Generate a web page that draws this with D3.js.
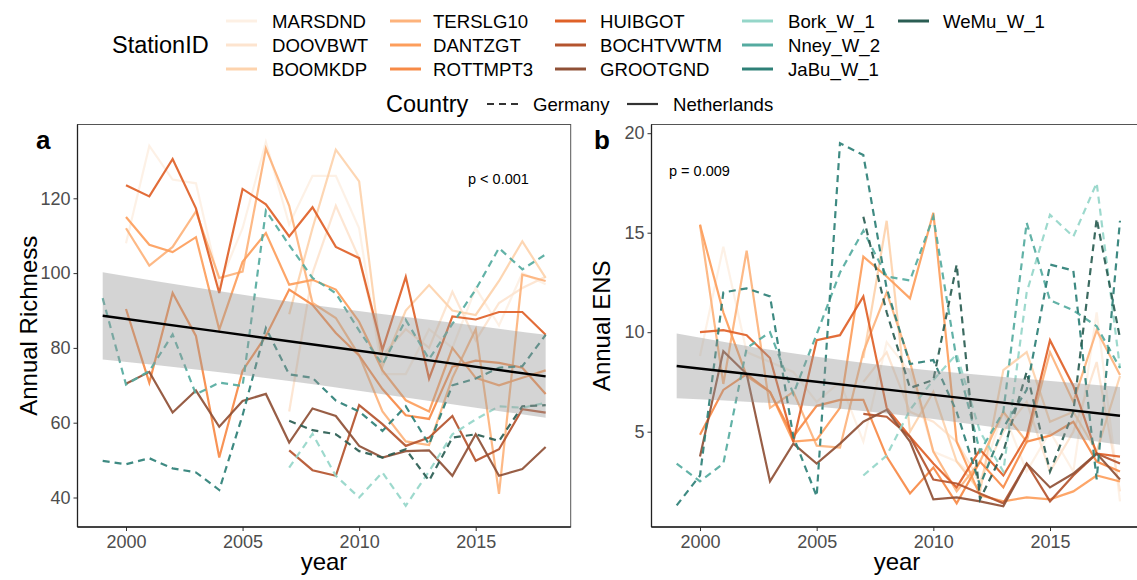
<!DOCTYPE html>
<html>
<head>
<meta charset="utf-8">
<script src="https://cdn.jsdelivr.net/npm/d3@7/dist/d3.min.js"></script>
<style>
  body { margin: 0; background: #fff; }
  text { font-family: "Liberation Sans", Arial, Helvetica, sans-serif; }
</style>
</head>
<body>
<svg id="chart" width="1137" height="580"></svg>
<script>
const NA = null;

const years = [1999, 2000, 2001, 2002, 2003, 2004, 2005, 2006, 2007, 2008,
               2009, 2010, 2011, 2012, 2013, 2014, 2015, 2016, 2017, 2018];

const stationIDs = ['MARSDND', 'DOOVBWT', 'BOOMKDP', 'TERSLG10', 'DANTZGT', 'ROTTMPT3',
                    'HUIBGOT', 'BOCHTVWTM', 'GROOTGND', 'Bork_W_1', 'Nney_W_2', 'JaBu_W_1', 'WeMu_W_1'];
const stationCountry = ['Netherlands', 'Netherlands', 'Netherlands', 'Netherlands', 'Netherlands', 'Netherlands',
                        'Netherlands', 'Netherlands', 'Netherlands', 'Germany', 'Germany', 'Germany', 'Germany'];
const stationColors = ['#fdf0e4', '#fde4cf', '#fdd3ad', '#fdb37c', '#fd9e5c', '#f78a47',
                       '#df6128', '#b4542e', '#8f5036', '#95d6c9', '#55aba0', '#2e8077', '#2a5d53'];

// Annual Richness (panel a)
const richMARSDND   = [NA, 108, 134, 125, 124, 97, 112, 135, 113, 126, 126, 112, 73, 73, 85, 80, 96, 86, 100, 97];
const richDOOVBWT   = [NA, NA, NA, NA, NA, NA, NA, NA, 63, 100, 118, 104, 78, 85, 80, 95, 82, 92, 96, 99];
const richBOOMKDP   = [NA, NA, NA, NA, NA, NA, NA, NA, 89, 112, 133, 124.5, 75, 90, 96.8, 90, 88.8, 97.9, 108.5, 98.7];
const richTERSLG10  = [NA, 112, 102, 107, 116.5, 98.7, 100.4, 133.3, 118, 92, 88, 78, 63, 55, 54, 72, 85, 41, 99.6, 97.9];
const richDANTZGT   = [NA, 115, 107.6, 105.6, 109.6, 84.9, 103, 110.7, 96.9, 98.2, 95.6, 87, 74, 66, 63, 80, 72, 70, 72, 74];
const richROTTMPT3  = [NA, 90.4, 70.7, 94.7, 83.2, 50.7, 73.9, 83.2, 95.6, 91.5, 84, 78, 69, 62, 61, 75, 76.6, 76, 74.7, 67.7];
const richHUIBGOT   = [NA, 123.5, 120.5, 130.5, 117.3, 94.7, 122.5, 118.4, 109.8, 117.6, 107, 104, 79.5, 99, 71.8, 88.4, 87.6, 89.6, 89.6, 83.5];
const richBOCHTVWTM = [NA, NA, NA, NA, NA, NA, NA, NA, 52.6, 47.3, 45.8, 64.7, 59.6, 53.8, 56, 61.8, 49.8, 52.9, 63.6, 62.7];
const richGROOTGND  = [NA, 70.4, 73.6, 62.7, 68.6, 58.9, 65.8, 67.7, 54.7, 63.8, 61.8, 53.8, 50.7, 52.4, 52.6, 45.8, 56.9, 45.8, 47.6, 53.5];
const richBork      = [NA, NA, NA, NA, NA, NA, NA, NA, 48, 57, 45.8, 40, 46.7, 37.8, 47, 56.9, 60.9, 64.4, 64, 65.3];
const richNney      = [93.3, 70.2, 73.8, 83.6, 67.6, 70.7, 69.8, 116.7, 107.5, 98.7, 94.6, 84.6, 75.5, 87.5, 77, 86.4, 95.6, 106.7, 101, 105];
const richJaBu      = [49.8, 48.9, 50.5, 47.8, 46.7, 42, 62, 85.3, 72.9, 72, 65.9, 63, 57.8, 64.4, 54.2, 70, 71.8, 74.7, 75.1, 83.5];
const richWeMu      = [NA, NA, NA, NA, NA, NA, NA, NA, 60.5, 58, 56.9, 52.4, 50.7, 52.9, 44.5, 56, 56.9, 55.1, 64.4, 64.7];

// Annual ENS (panel b)
const ensMARSDND   = [NA, 8.8, 14.3, 9.0, 8.5, 8.0, 6.5, 7.5, 4.5, 9.5, 8.0, 4.0, 3.5, 2.5, 6.0, 3.0, 5.0, 3.0, 11.0, 1.5];
const ensDOOVBWT   = [NA, NA, NA, NA, NA, NA, NA, NA, 7.5, 9.0, 6.0, 5.5, 4.5, 2.5, 5.0, 6.5, 3.0, 5.0, 8.5, 2.0];
const ensBOOMKDP   = [NA, NA, NA, NA, NA, NA, NA, NA, 8.7, 15.6, 5.0, 7.0, 3.5, 2.0, 8.1, 9.0, 5.5, 6.0, 4.0, 7.8];
const ensTERSLG10  = [NA, 15.4, 7.4, 14.1, 6.2, 7.0, 4.3, 4.2, 9.0, 12.0, 8.5, 4.0, 2.0, 3.5, 6.0, 4.5, 9.0, 6.5, 10.1, 7.85];
const ensDANTZGT   = [NA, 15.4, 11.0, 7.8, 7.0, 4.5, 4.6, 6.2, 13.8, 12.8, 11.7, 16.0, 4.5, 1.8, 1.5, 1.7, 1.6, 2.0, 2.8, 2.5];
const ensROTTMPT3  = [NA, 4.85, 7.1, 7.9, 7.0, 4.75, 6.3, 6.6, 6.6, 3.75, 1.9, 3.2, 1.4, 3.5, 2.2, 4.5, 4.8, 5.5, 3.5, 3.0];
const ensHUIBGOT   = [NA, 10.0, 10.1, 9.85, 8.7, 4.5, 9.6, 9.85, 11.8, 6.2, 4.75, 3.4, 2.2, 4.1, 2.8, 4.75, 9.6, 7.3, 3.9, 3.75];
const ensBOCHTVWTM = [NA, NA, NA, NA, NA, NA, NA, NA, 5.9, 5.75, 4.75, 2.6, 2.4, 1.9, 1.4, 3.4, 1.5, 2.8, 3.9, 3.4];
const ensGROOTGND  = [NA, 3.75, 9.05, 7.9, 2.5, 4.4, 3.4, 4.4, 5.5, 6.1, 4.5, 1.6, 1.7, 1.5, 1.25, 3.4, 2.2, 2.9, 3.9, 2.6];
const ensBork      = [NA, NA, NA, NA, NA, NA, NA, NA, 2.8, 3.8, 6.1, 7.6, 8.9, 5.0, 3.0, 12.0, 15.9, 14.8, 17.5, 8.2];
const ensNney      = [3.4, 2.5, 3.4, 9.2, 10.0, 6.9, 9.9, 13.0, 15.1, 12.8, 12.6, 15.8, 8.6, 4.0, 6.0, 15.5, 11.6, 11.1, 10.3, 8.2];
const ensJaBu      = [1.3, 2.8, 12.0, 12.2, 11.8, 4.75, 1.75, 19.5, 18.9, 12.2, 8.4, 8.6, 6.0, 2.3, 5.2, 7.1, 13.4, 13.1, 2.6, 15.6];
const ensWeMu      = [NA, NA, NA, NA, NA, NA, NA, NA, 15.8, 11.0, 7.2, 7.6, 13.4, 1.6, 4.0, 8.0, 3.0, 6.0, 15.7, 9.7];

const richSeries = [richMARSDND, richDOOVBWT, richBOOMKDP, richTERSLG10, richDANTZGT, richROTTMPT3,
                    richHUIBGOT, richBOCHTVWTM, richGROOTGND, richBork, richNney, richJaBu, richWeMu];
const ensSeries = [ensMARSDND, ensDOOVBWT, ensBOOMKDP, ensTERSLG10, ensDANTZGT, ensROTTMPT3,
                   ensHUIBGOT, ensBOCHTVWTM, ensGROOTGND, ensBork, ensNney, ensJaBu, ensWeMu];

// linear fit with confidence band
const bandYears = [1999, 2003.75, 2008.5, 2013.25, 2018];
const richFit   = [88.6, 84.55, 80.5, 76.45, 72.4];
const richLower = [76.9, 73.7, 69.9, 65.6, 61.3];
const richUpper = [100.2, 95.4, 91.1, 87.3, 83.5];
const ensFit    = [8.3, 7.675, 7.05, 6.425, 5.8];
const ensLower  = [6.68, 6.375, 5.85, 5.125, 4.35];
const ensUpper  = [9.93, 8.975, 8.25, 7.725, 7.25];

const richTicks = [40, 60, 80, 100, 120];
const ensTicks = [5, 10, 15, 20];
const yearTicks = [2000, 2005, 2010, 2015];

const svg = d3.select('#chart');

const panels = [
    { tag: 'a', ylab: 'Annual Richness', series: richSeries, fit: richFit, lower: richLower, upper: richUpper,
      ticks: richTicks, left: 77.5, right: 570.7, xr: [126, 475.7], yd: [40, 120], yr: [497.5, 198.3],
      pText: 'p < 0.001', pX: 468, pY: 184, tagX: 36, ylabX: 37, xlabX: 324 },
    { tag: 'b', ylab: 'Annual ENS', series: ensSeries, fit: ensFit, lower: ensLower, upper: ensUpper,
      ticks: ensTicks, left: 651.5, right: 1145, xr: [700, 1050], yd: [5, 20], yr: [431.7, 133.2],
      pText: 'p = 0.009', pX: 669, pY: 176, tagX: 594, ylabX: 610, xlabX: 897 }
];
const plotTop = 124.5, plotBottom = 527;

panels.forEach((p, pi) => {
    const x = d3.scaleLinear().domain([2000, 2015]).range(p.xr);
    const y = d3.scaleLinear().domain(p.yd).range(p.yr);

    const clipId = 'clip' + pi;
    svg.append('clipPath').attr('id', clipId)
        .append('rect').attr('x', p.left).attr('y', plotTop)
        .attr('width', p.right - p.left).attr('height', plotBottom - plotTop);

    const g = svg.append('g').attr('clip-path', `url(#${clipId})`);

    const line = d3.line()
        .defined(d => d.v != null)
        .x(d => x(d.year))
        .y(d => y(d.v));

    p.series.forEach((vals, i) => {
        const pts = years.map((yr, j) => ({ year: yr, v: vals[j] }));
        g.append('path')
            .attr('d', line(pts))
            .attr('fill', 'none')
            .attr('stroke', stationColors[i])
            .attr('stroke-width', 2.2)
            .attr('stroke-opacity', 0.92)
            .attr('stroke-dasharray', stationCountry[i] === 'Germany' ? '7,5' : null);
    });

    // confidence band and fit
    const area = d3.area()
        .x((d, j) => x(bandYears[j]))
        .y0(d => y(d[0]))
        .y1(d => y(d[1]))
        .curve(d3.curveMonotoneX);
    g.append('path')
        .attr('d', area(bandYears.map((b, j) => [p.lower[j], p.upper[j]])))
        .attr('fill', '#999999')
        .attr('fill-opacity', 0.42);

    const fitLine = d3.line().x((d, j) => x(bandYears[j])).y(d => y(d));
    g.append('path')
        .attr('d', fitLine(p.fit))
        .attr('fill', 'none')
        .attr('stroke', '#000')
        .attr('stroke-width', 2.4);

    // panel border
    svg.append('rect')
        .attr('x', p.left).attr('y', plotTop)
        .attr('width', p.right - p.left).attr('height', plotBottom - plotTop)
        .attr('fill', 'none').attr('stroke', '#555').attr('stroke-width', 1);

    // axes
    const yAxis = svg.append('g')
        .attr('transform', `translate(${p.left},0)`)
        .call(d3.axisLeft(y).tickValues(p.ticks).tickSize(4).tickPadding(3));
    const xAxis = svg.append('g')
        .attr('transform', `translate(0,${plotBottom})`)
        .call(d3.axisBottom(x).tickValues(yearTicks).tickFormat(d3.format('d')).tickSize(4).tickPadding(4));
    [yAxis, xAxis].forEach(ax => {
        ax.select('.domain').remove();
        ax.selectAll('line').attr('stroke', '#333');
        ax.selectAll('text').attr('fill', '#4d4d4d').style('font-size', '18px')
            .style('font-family', '"Liberation Sans", Arial, sans-serif');
    });
    svg.append('line').attr('x1', p.left).attr('x2', p.left).attr('y1', plotTop).attr('y2', plotBottom)
        .attr('stroke', '#222').attr('stroke-width', 1.3);
    svg.append('line').attr('x1', p.left).attr('x2', p.right).attr('y1', plotBottom).attr('y2', plotBottom)
        .attr('stroke', '#222').attr('stroke-width', 1.3);

    // labels
    svg.append('text').attr('x', p.pX).attr('y', p.pY)
        .style('font-size', '14.5px').attr('fill', '#000').text(p.pText);
    svg.append('text').attr('x', p.tagX).attr('y', 149)
        .style('font-size', '26px').style('font-weight', 'bold').text(p.tag);
    svg.append('text')
        .attr('transform', `translate(${p.ylabX},${(plotTop + plotBottom) / 2}) rotate(-90)`)
        .attr('text-anchor', 'middle')
        .style('font-size', '24px').text(p.ylab);
    svg.append('text').attr('x', p.xlabX).attr('y', 570)
        .attr('text-anchor', 'middle')
        .style('font-size', '24px').text('year');
});

// StationID legend
const legend = svg.append('g');
legend.append('text').attr('x', 112).attr('y', 53)
    .style('font-size', '23.5px').text('StationID');
const colKeyX = [226, 390, 555, 742, 898];
const colTextX = [272, 433, 600, 788, 943];
const rowY = [21, 45, 69];
stationIDs.forEach((id, i) => {
    const col = Math.floor(i / 3), row = i % 3;
    legend.append('line')
        .attr('x1', colKeyX[col]).attr('x2', colKeyX[col] + 31)
        .attr('y1', rowY[row]).attr('y2', rowY[row])
        .attr('stroke', stationColors[i]).attr('stroke-width', 3);
    legend.append('text')
        .attr('x', colTextX[col]).attr('y', rowY[row] + 6.6)
        .style('font-size', '18.6px').text(id);
});

// Country legend
const countryY = 104;
legend.append('text').attr('x', 386).attr('y', countryY + 8.4)
    .style('font-size', '23.5px').text('Country');
legend.append('line').attr('x1', 487).attr('x2', 518).attr('y1', countryY).attr('y2', countryY)
    .attr('stroke', '#333').attr('stroke-width', 2.2).attr('stroke-dasharray', '7,5');
legend.append('text').attr('x', 533).attr('y', countryY + 6.6)
    .style('font-size', '18.6px').text('Germany');
legend.append('line').attr('x1', 627).attr('x2', 658).attr('y1', countryY).attr('y2', countryY)
    .attr('stroke', '#333').attr('stroke-width', 2.2);
legend.append('text').attr('x', 673).attr('y', countryY + 6.6)
    .style('font-size', '18.6px').text('Netherlands');
</script>
</body>
</html>
